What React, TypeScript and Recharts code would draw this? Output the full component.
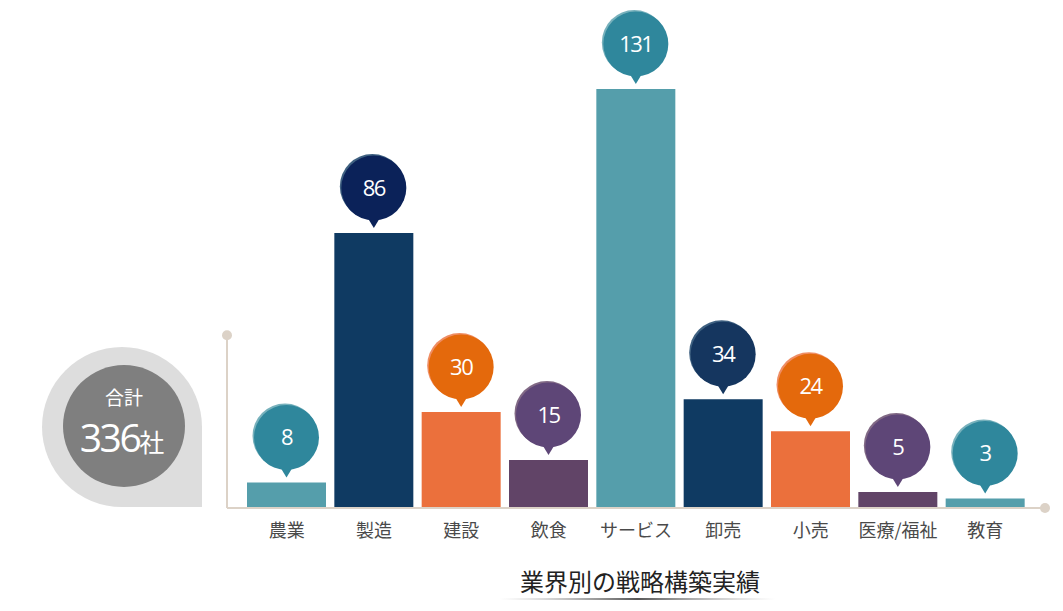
import React from "react"
import {
  BarChart,
  Bar,
  XAxis,
  YAxis,
  Cell,
  LabelList,
  ReferenceLine,
  ReferenceDot,
  Customized,
} from "recharts"

// 業界別の件数
const industries = ["農業", "製造", "建設", "飲食", "サービス", "卸売", "小売", "医療/福祉", "教育"]
const counts = [8, 86, 30, 15, 131, 34, 24, 5, 3]
const totalLabel = "336"

const barColors = ["#559EAB", "#0F3A62", "#EB703C", "#614467", "#559EAB", "#0F3A62", "#EB703C", "#614467", "#559EAB"]
const bubbleColors = ["#2F879C", "#0B2259", "#E4690C", "#5E4677", "#2F879C", "#15365F", "#E4690C", "#5E4677", "#2F879C"]

const chartData = industries.map((name, i) => ({ name, value: counts[i] }))
const lastIndex = industries.length - 1

const AXIS_COLOR = "#DCD2C7"
const CJK = "'Noto Sans CJK JP', 'Noto Sans', sans-serif"

function Bubble(props: any) {
  const { x, y, width, value, index } = props
  const cx = x + width / 2
  const cy = y - 45
  const r = 32.5
  const fill = bubbleColors[index]
  return (
    <g>
      <circle cx={cx - 1.5} cy={cy - 1.5} r={r} fill={barColors[index]} opacity={0.8} />
      <path d={`M${cx - 7},${cy + r - 4} L${cx + 7},${cy + r - 4} L${cx},${y - 5} Z`} fill={fill} />
      <circle cx={cx} cy={cy} r={r} fill={fill} />
      <text
        x={cx}
        y={cy}
        dy="0.36em"
        textAnchor="middle"
        fill="#fff"
        fontSize={22}
        letterSpacing={-1.5}
        fontFamily="'Open Sans', sans-serif"
      >
        {value}
      </text>
    </g>
  )
}

function Decorations() {
  // 合計バッジとタイトル
  const cx = 122
  const cy = 427
  const r = 80
  return (
    <g>
      <path
        d={`M${cx},${cy - r} A${r},${r} 0 0 1 ${cx + r},${cy} L${cx + r},${cy + r} L${cx},${cy + r} A${r},${r} 0 0 1 ${cx},${cy - r} Z`}
        fill="#DDDDDD"
      />
      <circle cx={124} cy={426} r={61} fill="#7F7F7F" />
      <text x={124} y={405} textAnchor="middle" fill="#fff" fontSize={19} fontFamily={CJK}>
        合計
      </text>
      <text x={122} y={452} textAnchor="middle" fill="#fff" fontFamily="'Open Sans', sans-serif" letterSpacing={-2.5}>
        <tspan fontSize={39}>{totalLabel}</tspan>
        <tspan fontSize={25} fontFamily={CJK} letterSpacing={0}>社</tspan>
      </text>
      <defs>
        <linearGradient id="uline" x1="0" x2="1" y1="0" y2="0">
          <stop offset="0%" stopColor="#999" stopOpacity={0} />
          <stop offset="50%" stopColor="#444" stopOpacity={0.9} />
          <stop offset="100%" stopColor="#999" stopOpacity={0} />
        </linearGradient>
      </defs>
      <text x={640} y={591} textAnchor="middle" fill="#222" fontSize={24} fontFamily={CJK}>
        業界別の戦略構築実績
      </text>
      <rect x={500} y={598} width={275} height={2} fill="url(#uline)" />
    </g>
  )
}

export default function App() {
  return (
    <div style={{ position: "absolute", left: 0, top: 0, width: 1063, height: 611, background: "#fff" }}>
      <BarChart
        width={1063}
        height={611}
        data={chartData}
        margin={{ top: 89, right: 18, bottom: 73, left: 227 }}
        barCategoryGap={4}
      >
        <XAxis
          dataKey="name"
          padding={{ left: 16, right: 16 }}
          axisLine={{ stroke: AXIS_COLOR, strokeWidth: 2 }}
          tickLine={false}
          tickMargin={10}
          height={30}
          interval={0}
          tick={{ fill: "#4a4a4a", fontSize: 18, fontFamily: CJK }}
        />
        <XAxis xAxisId="frame" type="number" domain={[0, lastIndex]} allowDataOverflow hide />
        <YAxis domain={[0, 131]} hide allowDataOverflow />
        <ReferenceLine
          xAxisId="frame"
          segment={[
            { x: 0, y: 0 },
            { x: 0, y: 54 },
          ]}
          stroke={AXIS_COLOR}
          strokeWidth={2}
          ifOverflow="visible"
        />
        <ReferenceDot xAxisId="frame" x={0} y={54} r={5} fill={AXIS_COLOR} stroke="none" ifOverflow="visible" />
        <ReferenceDot xAxisId="frame" x={lastIndex} y={0} r={5} fill={AXIS_COLOR} stroke="none" ifOverflow="visible" />
        <Bar dataKey="value" isAnimationActive={false}>
          {chartData.map((d, i) => (
            <Cell key={d.name} fill={barColors[i]} />
          ))}
          <LabelList dataKey="value" content={<Bubble />} />
        </Bar>
        <Customized component={Decorations} />
      </BarChart>
    </div>
  )
}
